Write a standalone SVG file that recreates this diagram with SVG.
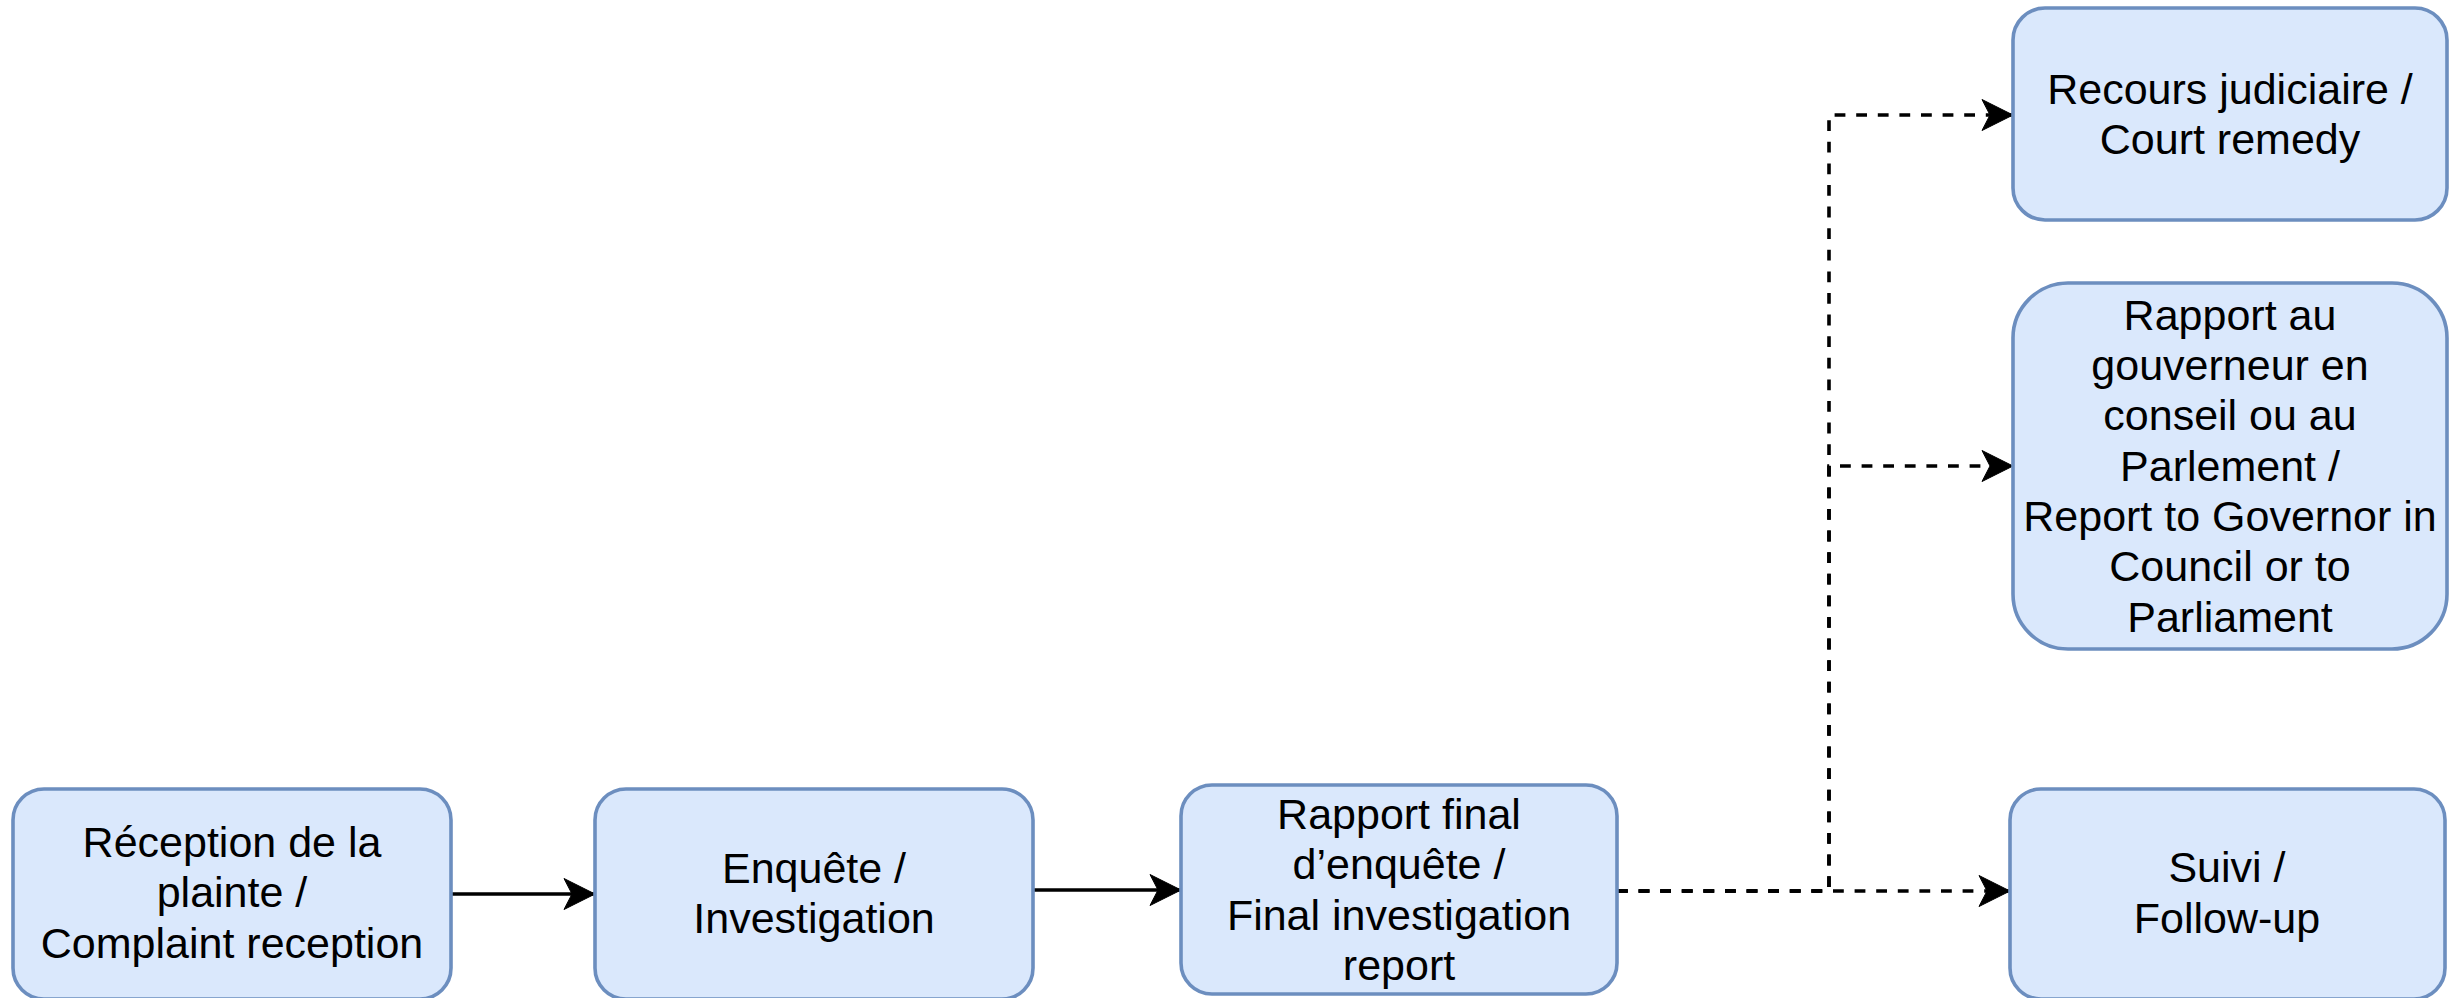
<svg xmlns="http://www.w3.org/2000/svg" width="2449" height="998" viewBox="0 0 2449 998">
  <style>
    .box { fill: #dae8fc; stroke: #6c8ebf; stroke-width: 3.6; }
    .lbl { font-family: "Liberation Sans", Arial, Helvetica, sans-serif; font-size: 43px; fill: #000000; text-anchor: middle; }
    .edge { fill: none; stroke: #000000; stroke-width: 3.6; marker-end: url(#arrow); }
    .dashed { stroke-dasharray: 10.8 10.8; }
  </style>
  <defs>
    <marker id="arrow" markerUnits="userSpaceOnUse" viewBox="-32 -17 34 34" refX="0" refY="0" markerWidth="34" markerHeight="34" orient="auto" overflow="visible">
      <path d="M0,0 L-31,-15.5 L-23,0 L-31,15.5 Z" fill="#000000" stroke="#000000" stroke-width="1"/>
    </marker>
  </defs>
  <rect width="2449" height="998" fill="#ffffff"/>

  <g id="connectors">
    <path class="edge" d="M451,894 L595,894"/>
    <path class="edge" d="M1033,890 L1181,890"/>
    <path class="edge dashed" d="M1617,891 L1829,891 L1829,115 L2013,115"/>
    <path class="edge dashed" d="M1617,891 L1829,891 L1829,466 L2013,466"/>
    <path class="edge dashed" d="M1617,891 L2010,891"/>
  </g>

  <g id="node-reception">
    <rect class="box" x="13" y="789" width="438" height="210" rx="31" ry="31"/>
    <text class="lbl" x="232" y="857">Réception de la</text>
    <text class="lbl" x="232" y="907">plainte /</text>
    <text class="lbl" x="232" y="958">Complaint reception</text>
  </g>

  <g id="node-enquete">
    <rect class="box" x="595" y="789" width="438" height="210" rx="31" ry="31"/>
    <text class="lbl" x="814" y="883">Enquête /</text>
    <text class="lbl" x="814" y="933">Investigation</text>
  </g>

  <g id="node-rapport-final">
    <rect class="box" x="1181" y="785" width="436" height="209" rx="31" ry="31"/>
    <text class="lbl" x="1399" y="829">Rapport final</text>
    <text class="lbl" x="1399" y="879">d’enquête /</text>
    <text class="lbl" x="1399" y="930">Final investigation</text>
    <text class="lbl" x="1399" y="980">report</text>
  </g>

  <g id="node-recours">
    <rect class="box" x="2013" y="8" width="434" height="212" rx="32" ry="32"/>
    <text class="lbl" x="2230" y="104">Recours judiciaire /</text>
    <text class="lbl" x="2230" y="154">Court remedy</text>
  </g>

  <g id="node-rapport-gouverneur">
    <rect class="box" x="2013" y="283" width="434" height="366" rx="55" ry="55"/>
    <text class="lbl" x="2230" y="330">Rapport au</text>
    <text class="lbl" x="2230" y="380">gouverneur en</text>
    <text class="lbl" x="2230" y="430">conseil ou au</text>
    <text class="lbl" x="2230" y="481">Parlement /</text>
    <text class="lbl" x="2230" y="531">Report to Governor in</text>
    <text class="lbl" x="2230" y="581">Council or to</text>
    <text class="lbl" x="2230" y="632">Parliament</text>
  </g>

  <g id="node-suivi">
    <rect class="box" x="2010" y="789" width="435" height="210" rx="31" ry="31"/>
    <text class="lbl" x="2227" y="882">Suivi /</text>
    <text class="lbl" x="2227" y="933">Follow-up</text>
  </g>
</svg>
